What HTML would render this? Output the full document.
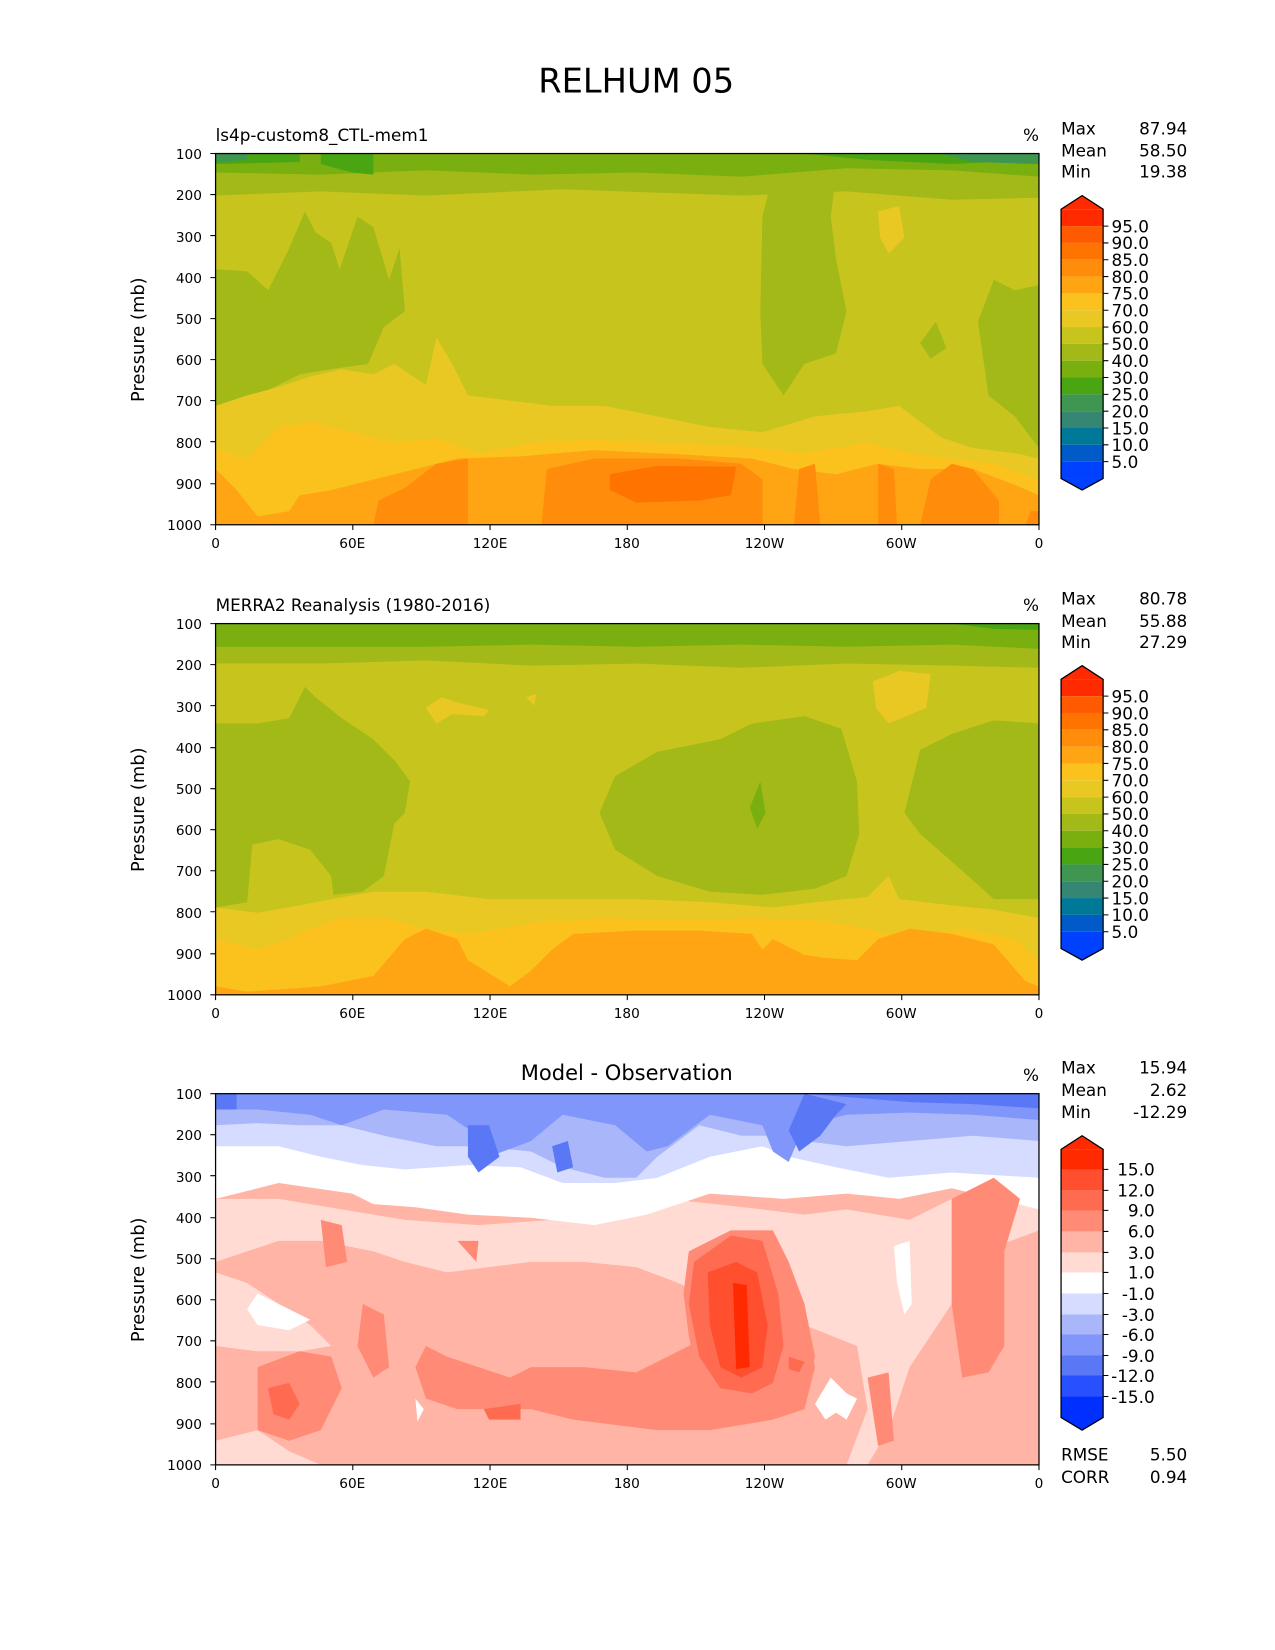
<!DOCTYPE html>
<html><head><meta charset="utf-8"><style>body{margin:0;background:#fff}svg{display:block}text{font-family:"DejaVu Sans","Liberation Sans",sans-serif;fill:#000}</style></head><body>
<svg width="1275" height="1650" viewBox="0 0 1275 1650" xmlns="http://www.w3.org/2000/svg">
<defs>
<clipPath id="cp"><rect x="0" y="0" width="783" height="353"/></clipPath>
</defs>
<g transform="scale(1.0516)">
<text x="605" y="88" font-size="32" text-anchor="middle">RELHUM 05</text>

<!-- PLOT 1 -->
<g transform="translate(205,146)">
<g clip-path="url(#cp)">
<rect width="783" height="353" fill="#c8c41e"/>
<path d="M0,110 L30,112 L50,130 L70,90 L85,55 L95,75 L110,85 L118,110 L135,60 L150,70 L165,120 L175,90 L180,150 L160,165 L145,200 L110,205 L80,210 L50,225 L20,235 L0,240 Z" fill="#a3b918"/>
<path d="M520,60 L530,20 L590,20 L585,60 L590,100 L600,150 L590,190 L560,200 L540,230 L520,200 L518,150 Z" fill="#a3b918"/>
<path d="M740,120 L760,130 L783,125 L783,280 L760,250 L735,230 L725,160 Z" fill="#a3b918"/>
<path d="M670,180 L685,160 L695,185 L680,195 Z" fill="#a3b918"/>
<path d="M0,0 H783 V42 L700,44 L600,36 L500,40 L330,34 L200,40 L100,36 L0,40 Z" fill="#a3b918"/>
<path d="M0,0 H783 V22 L700,16 L600,14 L500,22 L400,18 L300,20 L200,16 L100,20 L0,18 Z" fill="#79b010"/>
<path d="M0,0 H80 V8 L0,10 Z M100,0 H150 V20 L130,18 L100,10 Z M560,0 H783 V6 L700,10 L620,6 Z" fill="#4aa513"/>
<path d="M690,0 H783 V10 L720,8 Z M0,0 H30 V6 L0,8 Z" fill="#3e9650"/>
<path d="M630,55 L650,50 L655,80 L640,95 L632,80 Z" fill="#e9c824"/>
<path d="M0,240 L30,230 L60,222 L90,212 L120,205 L150,210 L170,200 L200,220 L210,175 L225,200 L240,230 L280,235 L320,240 L370,240 L420,250 L470,260 L520,265 L570,250 L620,245 L650,240 L690,270 L720,280 L760,285 L783,290 V353 H0 Z" fill="#e9c824"/>
<path d="M0,280 L30,290 L60,260 L90,255 L130,265 L170,275 L210,270 L250,285 L300,275 L360,272 L420,275 L500,278 L560,285 L620,275 L660,285 L700,290 L740,295 L783,310 V353 H0 Z" fill="#fbc21e"/>
<path d="M0,300 L20,320 L40,345 L70,340 L80,325 L110,320 L150,310 L190,300 L230,290 L290,288 L360,282 L440,286 L510,290 L550,300 L590,305 L630,295 L670,300 L720,300 L760,315 L783,325 V353 H0 Z" fill="#ffa514"/>
<path d="M150,353 L155,330 L180,318 L210,295 L240,290 L240,353 Z M310,353 L315,300 L360,290 L440,290 L500,295 L520,310 L520,353 Z M550,353 L555,300 L570,295 L575,353 Z M630,353 L630,295 L645,300 L648,353 Z M670,353 L680,310 L700,295 L720,300 L745,330 L745,353 Z M770,353 L775,340 L783,340 V353 Z" fill="#ff8c0a"/>
<path d="M375,305 L420,297 L495,298 L490,325 L460,330 L400,332 L375,320 Z" fill="#ff7300"/>
</g>
<rect width="783" height="353" fill="none" stroke="#000" stroke-width="1.2"/>
</g>

<!-- PLOT 2 -->
<g transform="translate(205,593)">
<g clip-path="url(#cp)">
<rect width="783" height="353" fill="#c8c41e"/>
<path d="M0,95 L40,95 L70,90 L85,60 L95,70 L120,90 L150,110 L170,130 L185,150 L180,180 L170,190 L160,240 L140,255 L112,258 L110,240 L90,215 L60,205 L35,210 L30,265 L0,270 Z" fill="#a3b918"/>
<path d="M365,180 L380,145 L420,122 L480,110 L510,95 L560,88 L595,100 L610,150 L612,200 L600,240 L570,252 L520,258 L470,255 L420,240 L380,215 Z" fill="#a3b918"/>
<path d="M655,180 L670,120 L700,105 L740,92 L783,95 V262 L740,262 L710,235 L670,200 Z" fill="#a3b918"/>
<path d="M508,175 L518,150 L523,180 L515,195 Z" fill="#79b010"/>
<path d="M0,0 H783 V42 L700,40 L600,38 L500,42 L400,38 L300,40 L200,35 L100,38 L0,38 Z" fill="#a3b918"/>
<path d="M0,0 H783 V24 L700,20 L600,22 L500,20 L400,22 L300,20 L200,22 L100,22 L0,22 Z" fill="#79b010"/>
<path d="M700,0 H783 V6 L740,5 Z" fill="#4aa513"/>
<path d="M200,80 L215,70 L230,75 L260,82 L255,88 L225,86 L210,95 Z M295,70 L305,67 L303,78 Z M625,55 L650,45 L680,48 L676,80 L640,95 L628,80 Z" fill="#e9c824"/>
<path d="M0,270 L40,275 L80,268 L110,262 L150,255 L200,255 L260,262 L330,262 L400,262 L470,265 L530,270 L570,265 L620,260 L640,240 L650,262 L700,268 L740,272 L783,280 V353 H0 Z" fill="#e9c824"/>
<path d="M0,300 L40,310 L70,300 L90,290 L120,280 L160,280 L200,290 L240,295 L300,285 L370,280 L440,282 L510,280 L570,282 L620,290 L660,300 L710,290 L760,300 L783,320 V353 H0 Z" fill="#fbc21e"/>
<path d="M0,345 L30,350 L100,345 L150,335 L180,300 L200,290 L230,300 L240,320 L280,345 L300,330 L320,310 L340,295 L400,292 L460,292 L510,295 L520,310 L530,300 L540,305 L560,315 L580,318 L610,320 L630,300 L660,290 L700,295 L740,305 L770,340 L783,345 V353 H0 Z" fill="#ffa514"/>
</g>
<rect width="783" height="353" fill="none" stroke="#000" stroke-width="1.2"/>
</g>

<!-- PLOT 3 -->
<g transform="translate(205,1040)">
<g clip-path="url(#cp)">
<rect width="783" height="353" fill="#ffb4a5"/>
<path d="M0,100 L60,100 L120,110 L180,120 L250,125 L320,120 L380,110 L430,100 L520,110 L560,115 L600,110 L660,120 L700,100 L750,90 L783,95 V130 L730,150 L700,200 L660,260 L640,320 L620,353 L600,353 L620,300 L610,240 L560,220 L520,210 L480,200 L440,180 L400,165 L350,160 L300,160 L260,165 L220,170 L180,160 L150,150 L100,140 L60,140 L0,160 Z" fill="#ffdbd4"/>
<path d="M0,170 L30,180 L60,200 L90,220 L110,240 L80,245 L40,245 L0,240 Z M0,330 L40,320 L70,340 L100,353 H0 Z" fill="#ffdbd4"/>
<path d="M0,0 H783 V110 L700,90 L650,100 L600,95 L540,100 L470,95 L410,115 L360,125 L300,118 L240,115 L190,108 L150,105 L130,95 L60,85 L0,100 Z" fill="#ffffff"/>
<path d="M40,190 L70,205 L90,215 L70,225 L40,220 L30,205 Z M645,145 L660,140 L662,200 L655,210 L648,180 Z M585,270 L600,285 L595,300 L580,310 L570,295 Z" fill="#ffffff"/>
<path d="M0,0 H783 V80 L700,75 L640,80 L590,70 L545,60 L520,50 L470,60 L420,80 L380,85 L330,85 L290,70 L240,68 L180,72 L140,68 L100,60 L60,50 L0,50 Z" fill="#d6dcff"/>
<path d="M0,0 H783 V45 L720,40 L660,45 L600,50 L560,45 L540,40 L500,40 L460,30 L420,60 L400,80 L370,80 L330,70 L300,55 L250,50 L210,50 L160,40 L120,30 L80,30 L40,28 L0,30 Z" fill="#aab6fa"/>
<path d="M0,0 H783 V25 L720,20 L660,18 L600,20 L560,30 L545,65 L530,55 L520,30 L470,20 L430,50 L410,55 L380,30 L330,20 L300,45 L260,60 L250,40 L220,20 L160,15 L120,30 L90,20 L40,15 L0,15 Z" fill="#8096fa"/>
<path d="M0,0 H783 V14 L720,10 L660,8 L560,0 L545,35 L555,55 L575,40 L590,20 L600,10 L560,0 Z M240,30 L260,30 L270,60 L250,75 L240,60 Z M320,50 L335,45 L340,70 L325,75 Z" fill="#5a78f5"/>
<path d="M700,0 H783 V10 L720,8 Z M0,0 H20 V15 L0,15 Z" fill="#5a78f5"/>
<path d="M280,270 L300,260 L350,260 L400,265 L440,245 L470,230 L490,220 L520,215 L560,220 L570,260 L560,300 L530,310 L470,320 L420,320 L380,315 L340,310 L300,300 L260,300 L230,300 L200,290 L190,260 L200,240 L220,250 L250,260 Z" fill="#ff8a75"/>
<path d="M450,150 L490,130 L530,130 L545,160 L560,200 L570,250 L560,290 L530,300 L480,305 L460,280 L450,230 L445,190 Z" fill="#ff8a75"/>
<path d="M40,260 L80,245 L110,250 L120,280 L100,320 L70,330 L40,320 Z M140,200 L160,210 L165,260 L150,270 L135,240 Z M100,120 L120,125 L125,160 L105,165 Z M700,100 L740,80 L765,100 L750,150 L750,240 L735,265 L710,270 L700,200 Z M620,270 L640,265 L645,330 L630,335 Z M230,140 L250,140 L248,160 Z" fill="#ff8a75"/>
<path d="M455,160 L490,135 L520,140 L535,190 L540,240 L530,275 L510,285 L480,280 L460,250 L450,200 Z" fill="#ff6b50"/>
<path d="M50,280 L70,275 L80,295 L70,310 L55,305 Z M255,300 L290,295 L290,310 L260,310 Z M545,250 L560,255 L555,265 L545,262 Z" fill="#ff6b50"/>
<path d="M468,170 L495,160 L515,170 L525,220 L520,260 L500,270 L480,260 L470,220 Z" fill="#ff4f2e"/>
<path d="M492,180 L505,182 L508,260 L495,262 Z" fill="#ff2a00"/>
<path d="M590,280 L610,290 L600,310 L585,300 Z M190,290 L198,300 L192,312 Z" fill="#ffffff"/>
</g>
<rect width="783" height="353" fill="none" stroke="#000" stroke-width="1.2"/>
</g>

<g font-size="13" text-anchor="end">
<text x="192" y="151">100</text><text x="192" y="190">200</text><text x="192" y="230">300</text><text x="192" y="269">400</text><text x="192" y="308">500</text><text x="192" y="347">600</text><text x="192" y="386">700</text><text x="192" y="426">800</text><text x="192" y="465">900</text><text x="192" y="504">1000</text>
<text x="192" y="598">100</text><text x="192" y="637">200</text><text x="192" y="677">300</text><text x="192" y="716">400</text><text x="192" y="755">500</text><text x="192" y="794">600</text><text x="192" y="833">700</text><text x="192" y="873">800</text><text x="192" y="912">900</text><text x="192" y="951">1000</text>
<text x="192" y="1045">100</text><text x="192" y="1084">200</text><text x="192" y="1124">300</text><text x="192" y="1163">400</text><text x="192" y="1202">500</text><text x="192" y="1241">600</text><text x="192" y="1280">700</text><text x="192" y="1320">800</text><text x="192" y="1359">900</text><text x="192" y="1398">1000</text>
</g>
<g stroke="#000" stroke-width="1">
<path d="M200,146h5M200,185h5M200,224h5M200,264h5M200,303h5M200,342h5M200,381h5M200,420h5M200,460h5M200,499h5"/>
<path d="M200,593h5M200,632h5M200,671h5M200,711h5M200,750h5M200,789h5M200,828h5M200,867h5M200,907h5M200,946h5"/>
<path d="M200,1040h5M200,1079h5M200,1118h5M200,1158h5M200,1197h5M200,1236h5M200,1275h5M200,1314h5M200,1354h5M200,1393h5"/>
<path d="M205,499v5M335.5,499v5M466,499v5M596.5,499v5M727,499v5M857.5,499v5M988,499v5"/>
<path d="M205,946v5M335.5,946v5M466,946v5M596.5,946v5M727,946v5M857.5,946v5M988,946v5"/>
<path d="M205,1393v5M335.5,1393v5M466,1393v5M596.5,1393v5M727,1393v5M857.5,1393v5M988,1393v5"/>
</g>
<g font-size="13" text-anchor="middle">
<text x="205" y="521">0</text><text x="335" y="521">60E</text><text x="466" y="521">120E</text><text x="596" y="521">180</text><text x="727" y="521">120W</text><text x="857" y="521">60W</text><text x="988" y="521">0</text>
<text x="205" y="968">0</text><text x="335" y="968">60E</text><text x="466" y="968">120E</text><text x="596" y="968">180</text><text x="727" y="968">120W</text><text x="857" y="968">60W</text><text x="988" y="968">0</text>
<text x="205" y="1415">0</text><text x="335" y="1415">60E</text><text x="466" y="1415">120E</text><text x="596" y="1415">180</text><text x="727" y="1415">120W</text><text x="857" y="1415">60W</text><text x="988" y="1415">0</text>
</g>
<g font-size="17" text-anchor="middle">
<text transform="translate(137,323) rotate(-90)">Pressure (mb)</text>
<text transform="translate(137,770) rotate(-90)">Pressure (mb)</text>
<text transform="translate(137,1217) rotate(-90)">Pressure (mb)</text>
</g>
<g font-size="16">
<text x="205" y="134">ls4p-custom8_CTL-mem1</text>
<text x="205" y="581">MERRA2 Reanalysis (1980-2016)</text>
<text x="596" y="1027" font-size="20" text-anchor="middle">Model - Observation</text>
<text x="988" y="134" text-anchor="end">%</text>
<text x="988" y="581" text-anchor="end">%</text>
<text x="988" y="1028" text-anchor="end">%</text>
</g>
<g font-size="16">
<text x="1009" y="128">Max</text><text x="1009" y="149">Mean</text><text x="1009" y="169">Min</text>
<text x="1129" y="128" text-anchor="end">87.94</text><text x="1129" y="149" text-anchor="end">58.50</text><text x="1129" y="169" text-anchor="end">19.38</text>
<text x="1009" y="575">Max</text><text x="1009" y="596">Mean</text><text x="1009" y="616">Min</text>
<text x="1129" y="575" text-anchor="end">80.78</text><text x="1129" y="596" text-anchor="end">55.88</text><text x="1129" y="616" text-anchor="end">27.29</text>
<text x="1009" y="1021">Max</text><text x="1009" y="1042">Mean</text><text x="1009" y="1063">Min</text>
<text x="1129" y="1021" text-anchor="end">15.94</text><text x="1129" y="1042" text-anchor="end">2.62</text><text x="1129" y="1063" text-anchor="end">-12.29</text>
<text x="1009" y="1389">RMSE</text><text x="1009" y="1410">CORR</text>
<text x="1129" y="1389" text-anchor="end">5.50</text><text x="1129" y="1410" text-anchor="end">0.94</text>
</g>

<g id="cb1">
<polygon points="1009,199 1029,186 1049,199" fill="#ff2a00"/>
<rect x="1009" y="199" width="40" height="16" fill="#ff2a00"/>
<rect x="1009" y="215" width="40" height="16" fill="#ff5a00"/>
<rect x="1009" y="231" width="40" height="16" fill="#ff7300"/>
<rect x="1009" y="247" width="40" height="16" fill="#ff8c0a"/>
<rect x="1009" y="263" width="40" height="16" fill="#ffa514"/>
<rect x="1009" y="279" width="40" height="16" fill="#fbc21e"/>
<rect x="1009" y="295" width="40" height="16" fill="#e9c824"/>
<rect x="1009" y="311" width="40" height="16" fill="#c8c41e"/>
<rect x="1009" y="327" width="40" height="16" fill="#a3b918"/>
<rect x="1009" y="343" width="40" height="16" fill="#79b010"/>
<rect x="1009" y="359" width="40" height="16" fill="#4aa513"/>
<rect x="1009" y="375" width="40" height="16" fill="#3e9650"/>
<rect x="1009" y="391" width="40" height="16" fill="#358672"/>
<rect x="1009" y="407" width="40" height="16" fill="#007898"/>
<rect x="1009" y="423" width="40" height="16" fill="#005ac8"/>
<rect x="1009" y="439" width="40" height="16" fill="#0040ff"/>
<polygon points="1009,455 1029,466 1049,455" fill="#0040ff"/>
<polygon points="1009,199 1029,186 1049,199 1049,455 1029,466 1009,455" fill="none" stroke="#000" stroke-width="1.2"/>
<g stroke="#000"><path d="M1049,215h5M1049,231h5M1049,247h5M1049,263h5M1049,279h5M1049,295h5M1049,311h5M1049,327h5M1049,343h5M1049,359h5M1049,375h5M1049,391h5M1049,407h5M1049,423h5M1049,439h5"/></g>
<g font-size="16"><text x="1057" y="221">95.0</text><text x="1057" y="237">90.0</text><text x="1057" y="253">85.0</text><text x="1057" y="269">80.0</text><text x="1057" y="285">75.0</text><text x="1057" y="301">70.0</text><text x="1057" y="317">60.0</text><text x="1057" y="333">50.0</text><text x="1057" y="349">40.0</text><text x="1057" y="365">30.0</text><text x="1057" y="381">25.0</text><text x="1057" y="397">20.0</text><text x="1057" y="413">15.0</text><text x="1057" y="429">10.0</text><text x="1057" y="445">5.0</text></g>
</g>
<use href="#cb1" transform="translate(0,447)"/>

<polygon points="1009,1093 1029,1080 1049,1093" fill="#ff2a00"/>
<rect x="1009" y="1093" width="40" height="20" fill="#ff2a00"/>
<rect x="1009" y="1112" width="40" height="20" fill="#ff4f2e"/>
<rect x="1009" y="1132" width="40" height="20" fill="#ff6b50"/>
<rect x="1009" y="1151" width="40" height="20" fill="#ff8a75"/>
<rect x="1009" y="1171" width="40" height="20" fill="#ffb4a5"/>
<rect x="1009" y="1191" width="40" height="20" fill="#ffdbd4"/>
<rect x="1009" y="1210" width="40" height="20" fill="#ffffff"/>
<rect x="1009" y="1230" width="40" height="20" fill="#d6dcff"/>
<rect x="1009" y="1250" width="40" height="20" fill="#aab6fa"/>
<rect x="1009" y="1269" width="40" height="20" fill="#8096fa"/>
<rect x="1009" y="1289" width="40" height="20" fill="#5a78f5"/>
<rect x="1009" y="1308" width="40" height="20" fill="#2850ff"/>
<rect x="1009" y="1328" width="40" height="20" fill="#0030ff"/>
<polygon points="1009,1348 1029,1360 1049,1348" fill="#0030ff"/>
<polygon points="1009,1093 1029,1080 1049,1093 1049,1348 1029,1360 1009,1348" fill="none" stroke="#000" stroke-width="1.2"/>
<g stroke="#000"><path d="M1049,1112h5M1049,1132h5M1049,1151h5M1049,1171h5M1049,1191h5M1049,1210h5M1049,1230h5M1049,1250h5M1049,1269h5M1049,1289h5M1049,1308h5M1049,1328h5"/></g>
<g font-size="16"><text x="1098" y="1118" text-anchor="end">15.0</text><text x="1098" y="1138" text-anchor="end">12.0</text><text x="1098" y="1157" text-anchor="end">9.0</text><text x="1098" y="1177" text-anchor="end">6.0</text><text x="1098" y="1197" text-anchor="end">3.0</text><text x="1098" y="1216" text-anchor="end">1.0</text><text x="1098" y="1236" text-anchor="end">-1.0</text><text x="1098" y="1256" text-anchor="end">-3.0</text><text x="1098" y="1275" text-anchor="end">-6.0</text><text x="1098" y="1295" text-anchor="end">-9.0</text><text x="1098" y="1314" text-anchor="end">-12.0</text><text x="1098" y="1334" text-anchor="end">-15.0</text></g>
</g>
</svg>
</body></html>
